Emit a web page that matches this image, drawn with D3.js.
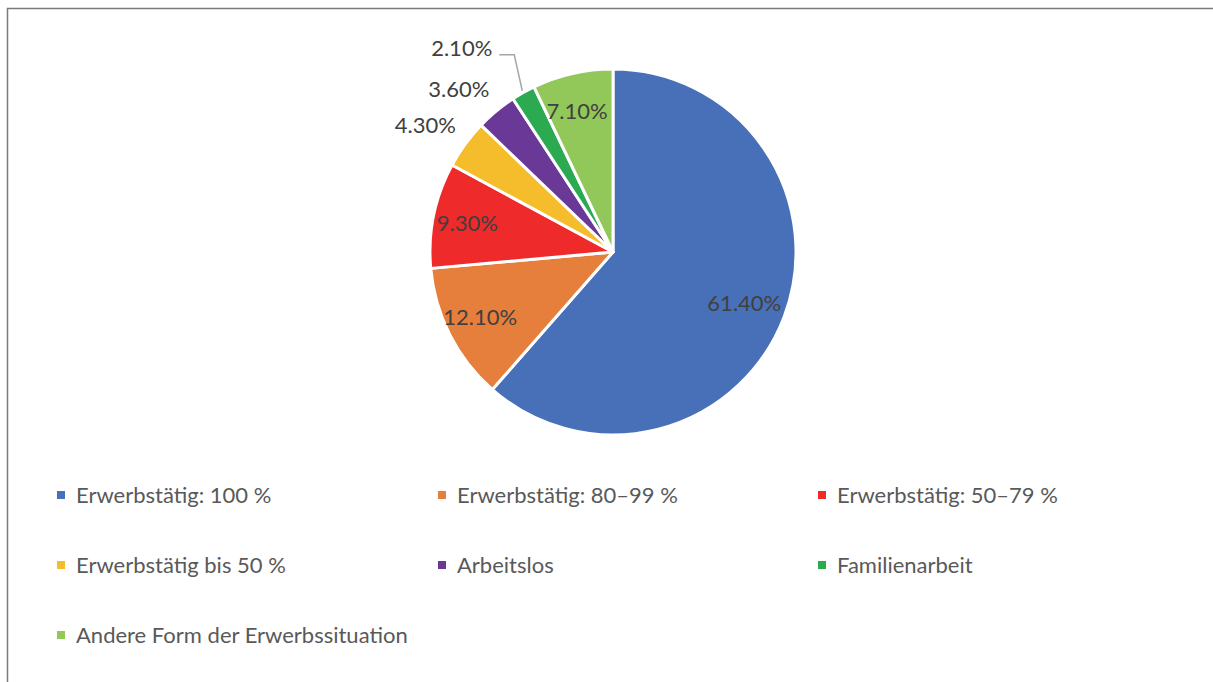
<!DOCTYPE html>
<html><head><meta charset="utf-8">
<script src="https://cdn.jsdelivr.net/npm/d3@7"></script>
<style>body{margin:0;background:#fff;} svg{display:block;}</style>
</head><body>
<svg id="chart" width="1213" height="682"></svg>
<script>
const categories = ["Erwerbstätig: 100 %","Erwerbstätig: 80–99 %","Erwerbstätig: 50–79 %","Erwerbstätig bis 50 %","Arbeitslos","Familienarbeit","Andere Form der Erwerbssituation"];
const values = [61.4, 12.1, 9.3, 4.3, 3.6, 2.1, 7.1];
const labels = ["61.40%","12.10%","9.30%","4.30%","3.60%","2.10%","7.10%"];
const colors = ["#4870B8","#E67E3C","#EE2A2A","#F5BD2B","#6A3997","#2BAA52","#92C75A"];

const svg = d3.select("#chart");
const W = 1213, H = 682;
const font = "Lato, 'Open Sans', sans-serif";

// border
svg.append("rect").attr("x",7.5).attr("y",8.5).attr("width",W+10).attr("height",H+10)
  .attr("fill","none").attr("stroke","#7a7a7a").attr("stroke-width",1.5);

const cx = 613, cy = 252, r = 183;
const g = svg.append("g").attr("transform",`translate(${cx},${cy})`);
const pie = d3.pie().sort(null).value(d=>d)(values);
const arc = d3.arc().innerRadius(0).outerRadius(r);

g.selectAll("path.slice").data(pie).join("path")
  .attr("class","slice")
  .attr("d",arc)
  .attr("fill",(d,i)=>colors[i])
  .attr("stroke","#fff").attr("stroke-width",3).attr("stroke-linejoin","round");

const mid = d => (d.startAngle+d.endAngle)/2;
const pt = (a,rad) => [Math.sin(a)*rad, -Math.cos(a)*rad];

pie.forEach((d,i)=>{
  const a = mid(d);
  if (values[i] >= 5) {
    const [x,y] = pt(a, r*0.79);
    g.append("text").attr("x",x-4).attr("y",y).attr("dy","0.35em")
      .attr("text-anchor","middle").attr("font-family",font).attr("font-size",22)
      .attr("fill","#404040").text(labels[i]);
  } else if (values[i] >= 3) {
    const [x,y] = pt(a, r+14);
    g.append("text").attr("x",x+2).attr("y",y-11).attr("dy","0.35em")
      .attr("text-anchor","end").attr("font-family",font).attr("font-size",22)
      .attr("fill","#404040").text(labels[i]);
  } else {
    const [x0,y0] = pt(a, r+2);
    const x1 = x0-8, y1 = y0-36, x2 = x1-15;
    g.append("path").attr("d",`M${x0},${y0}L${x1},${y1}L${x2},${y1}`)
      .attr("fill","none").attr("stroke","#a6a6a6").attr("stroke-width",1.5);
    g.append("text").attr("x",x2-7).attr("y",y1-6).attr("dy","0.35em")
      .attr("text-anchor","end").attr("font-family",font).attr("font-size",22)
      .attr("fill","#404040").text(labels[i]);
  }
});

// legend
const colX = [57, 438, 818], rowY = [495, 565, 635];
const leg = svg.append("g");
categories.forEach((c,i)=>{
  const x = colX[i%3], y = rowY[Math.floor(i/3)];
  leg.append("rect").attr("x",x).attr("y",y-4).attr("width",8).attr("height",8).attr("fill",colors[i]);
  leg.append("text").attr("x",x+19).attr("y",y).attr("dy","0.35em")
    .attr("font-family",font).attr("font-size",22).attr("fill","#595959").text(c);
});
</script>
</body></html>
